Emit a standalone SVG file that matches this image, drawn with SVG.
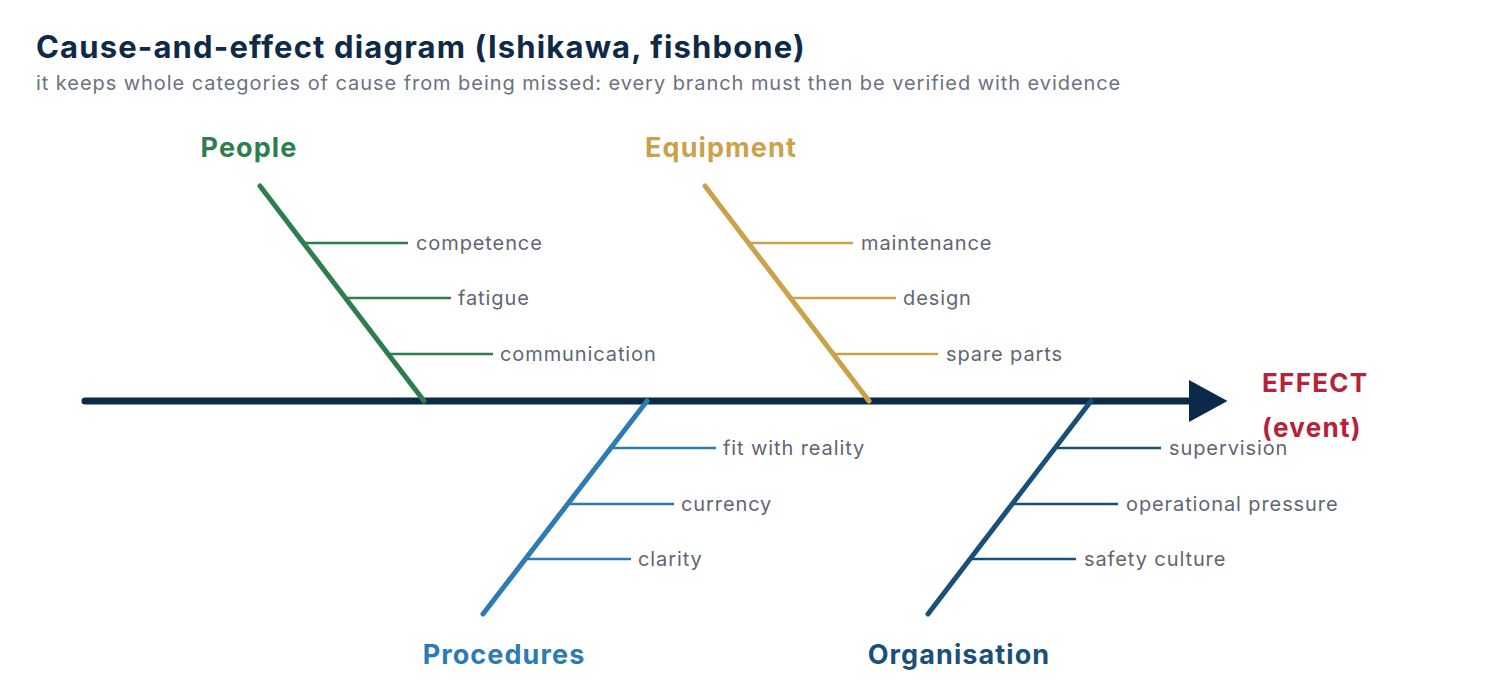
<svg xmlns="http://www.w3.org/2000/svg" width="1500" height="700" viewBox="0 0 1500 700">
<style>
text{font-family:Inter,"Noto Sans","Liberation Sans",sans-serif}
.title{font-size:31px;font-weight:700;fill:#0e2a47;letter-spacing:1.15px}
.sub{font-size:20px;fill:#6b7280;letter-spacing:0.94px}
.cat{font-size:27px;font-weight:700;text-anchor:middle;letter-spacing:1.1px}
.lbl{font-size:20px;fill:#5f6673;letter-spacing:0.9px}
.eff{font-size:26px;font-weight:700;fill:#b5223a;letter-spacing:1.3px}
.bone{stroke-width:5;stroke-linecap:round;fill:none}
.rib{stroke-width:2.5;fill:none}
</style>
<defs>
<marker id="ah" markerWidth="6" markerHeight="6" refX="1" refY="3" orient="auto" markerUnits="strokeWidth"><path d="M0,0 L5.5,3 L0,6 Z" fill="#0b2a4a"/></marker>
</defs>
<text class="title" x="36" y="58">Cause-and-effect diagram (Ishikawa, fishbone)</text>
<text class="sub" x="36" y="90">it keeps whole categories of cause from being missed: every branch must then be verified with evidence</text>
<g id="connectors">
<line x1="85" y1="401" x2="1196" y2="401" stroke="#0b2a4a" stroke-width="7" stroke-linecap="round" marker-end="url(#ah)"/>
</g>
<g id="people" stroke="#2e7d4f">
<line class="bone" x1="260" y1="186" x2="424" y2="401"/>
<line class="rib" x1="305" y1="243" x2="408" y2="243"/>
<line class="rib" x1="347" y1="298" x2="451" y2="298"/>
<line class="rib" x1="390" y1="354" x2="493" y2="354"/>
<text class="cat" x="249" y="157" fill="#2e7d4f" stroke="none">People</text>
<text class="lbl" x="416" y="250" stroke="none">competence</text>
<text class="lbl" x="458" y="305" stroke="none">fatigue</text>
<text class="lbl" x="500" y="361" stroke="none">communication</text>
</g>
<g id="equipment" stroke="#c9a24a">
<line class="bone" x1="705" y1="186" x2="869" y2="401"/>
<line class="rib" x1="750" y1="243" x2="853" y2="243"/>
<line class="rib" x1="792" y1="298" x2="896" y2="298"/>
<line class="rib" x1="834" y1="354" x2="938" y2="354"/>
<text class="cat" x="721" y="157" fill="#c9a24a" stroke="none">Equipment</text>
<text class="lbl" x="861" y="250" stroke="none">maintenance</text>
<text class="lbl" x="903" y="305" stroke="none">design</text>
<text class="lbl" x="946" y="361" stroke="none">spare parts</text>
</g>
<g id="procedures" stroke="#2e7bb4">
<line class="bone" x1="647" y1="401" x2="483" y2="614"/>
<line class="rib" x1="612" y1="448" x2="716" y2="448"/>
<line class="rib" x1="570" y1="504" x2="674" y2="504"/>
<line class="rib" x1="527" y1="559" x2="631" y2="559"/>
<text class="cat" x="504" y="664" fill="#2e7bb4" stroke="none">Procedures</text>
<text class="lbl" x="723" y="455" stroke="none">fit with reality</text>
<text class="lbl" x="681" y="511" stroke="none">currency</text>
<text class="lbl" x="638" y="566" stroke="none">clarity</text>
</g>
<g id="organisation" stroke="#1a4f7a">
<line class="bone" x1="1091" y1="401" x2="928" y2="614"/>
<line class="rib" x1="1057" y1="448" x2="1161" y2="448"/>
<line class="rib" x1="1014" y1="504" x2="1118" y2="504"/>
<line class="rib" x1="972" y1="559" x2="1076" y2="559"/>
<text class="cat" x="959" y="664" fill="#1a4f7a" stroke="none">Organisation</text>
<text class="lbl" x="1169" y="455" stroke="none">supervision</text>
<text class="lbl" x="1126" y="511" stroke="none">operational pressure</text>
<text class="lbl" x="1084" y="566" stroke="none">safety culture</text>
</g>
<g id="effect">
<text class="eff" x="1262" y="392">EFFECT</text>
<text class="eff" x="1262" y="437">(event)</text>
</g>
</svg>
